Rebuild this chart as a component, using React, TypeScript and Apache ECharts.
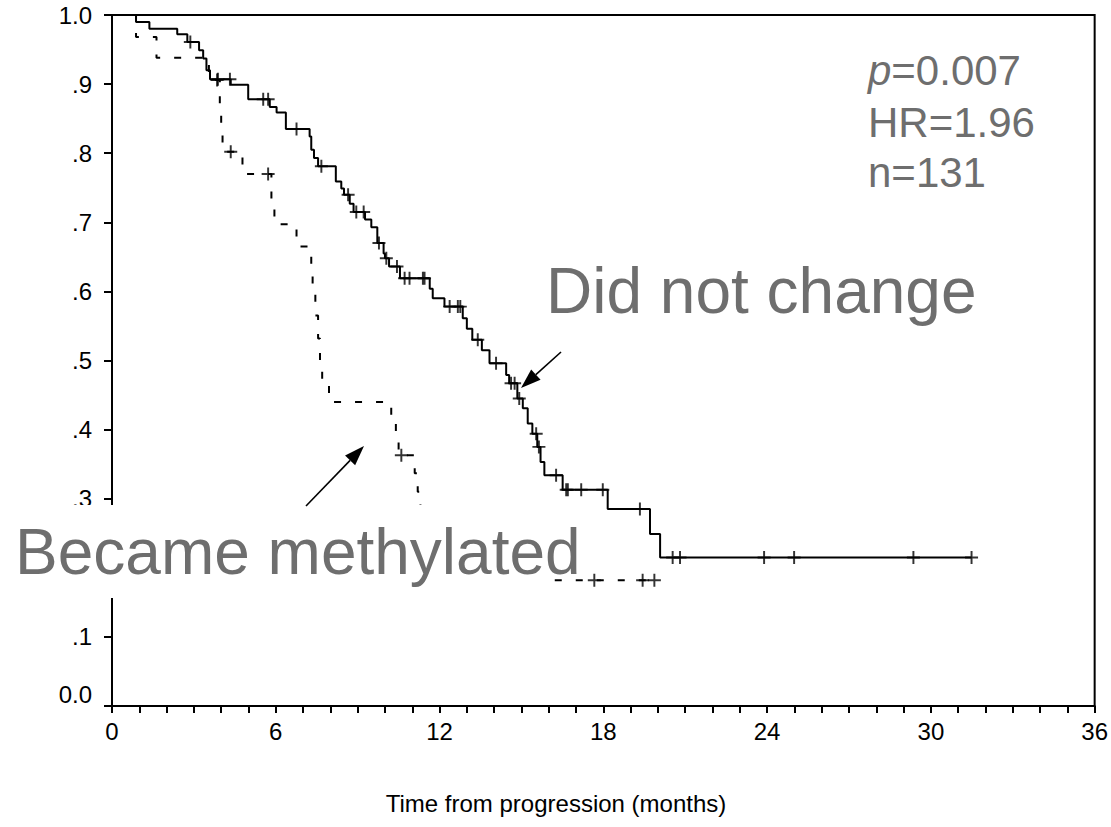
import React, { useEffect, useRef } from "react";
import * as echarts from "echarts";

// ---- Data ----
// "Did not change" group: Kaplan-Meier step times (months) and survival after each step
const timeNoChange = [0, 0.88, 1.37, 2.39, 2.76, 3.19, 3.34, 3.46, 3.59, 4.35, 4.99, 5.78, 6.03, 6.37, 7.24, 7.3, 7.4, 7.55, 8.2, 8.4, 8.5, 8.71, 8.85, 9.27, 9.5, 9.72, 9.95, 10.0, 10.15, 10.55, 11.64, 11.75, 12.18, 12.85, 13.0, 13.2, 13.55, 13.83, 14.44, 14.55, 14.85, 15.05, 15.23, 15.4, 15.58, 15.7, 15.84, 16.51, 18.16, 19.71, 20.08];
const survNoChange = [1.0, 0.99, 0.98, 0.972, 0.961, 0.949, 0.937, 0.92, 0.907, 0.899, 0.878, 0.867, 0.859, 0.835, 0.824, 0.805, 0.793, 0.781, 0.759, 0.749, 0.74, 0.727, 0.715, 0.704, 0.693, 0.67, 0.655, 0.648, 0.636, 0.619, 0.604, 0.59, 0.578, 0.561, 0.546, 0.53, 0.515, 0.496, 0.479, 0.467, 0.445, 0.431, 0.409, 0.394, 0.375, 0.353, 0.334, 0.313, 0.285, 0.249, 0.215];
const censorNoChange = [2.87, 3.88, 4.32, 5.54, 5.72, 6.76, 7.67, 8.65, 8.95, 9.22, 9.78, 10.05, 10.44, 10.72, 10.9, 11.39, 11.45, 12.37, 12.67, 12.76, 13.4, 14.07, 14.62, 14.75, 14.92, 15.54, 15.64, 16.27, 16.64, 16.7, 17.19, 17.98, 19.34, 20.54, 20.81, 23.89, 24.99, 29.36, 31.49];

// "Became methylated" group
const timeMeth = [0, 0.88, 1.63, 3.55, 3.95, 4.0, 4.05, 4.78, 5.84, 5.95, 6.76, 7.3, 7.35, 7.45, 7.55, 7.62, 7.7, 7.95, 10.23, 10.4, 10.5, 11.09, 11.2, 11.3, 11.5, 12.0, 13.0];
const survMeth = [1.0, 0.968, 0.938, 0.906, 0.87, 0.836, 0.802, 0.77, 0.733, 0.697, 0.665, 0.632, 0.598, 0.565, 0.532, 0.5, 0.468, 0.44, 0.414, 0.39, 0.363, 0.337, 0.31, 0.285, 0.25, 0.215, 0.182];
const censorMeth = [3.85, 4.35, 5.72, 10.6, 17.67, 19.44, 19.87];

const xTicks = [0, 6, 12, 18, 24, 30, 36];
const statLines = ["p=0.007", "HR=1.96", "n=131"];
const xTitle = "Time from progression (months)";

const FONT = '"Liberation Sans", Arial, Helvetica, sans-serif';
const GRAY = "#6e6e6e";

function stepAt(times: number[], surv: number[], t: number) {
  let v = surv[0];
  for (let i = 0; i < times.length; i++) if (times[i] <= t) v = surv[i];
  return v;
}

function curveData(times: number[], surv: number[], censors: number[]) {
  const d = times.map((t, i) => [t, surv[i]]);
  const end = Math.max(...censors);
  d.push([end, stepAt(times, surv, end)]);
  return d;
}

function censorData(times: number[], surv: number[], censors: number[]) {
  return censors.map((t) => [t, stepAt(times, surv, t)]);
}

function arrow(sx: number, sy: number, tx: number, ty: number) {
  const dx = tx - sx, dy = ty - sy;
  const len = Math.hypot(dx, dy);
  const ux = dx / len, uy = dy / len;
  const L = 20, W = 7;
  const bx = tx - ux * L, by = ty - uy * L;
  const nx = -uy, ny = ux;
  return [
    { type: "line", z: 120, shape: { x1: sx, y1: sy, x2: bx, y2: by }, style: { stroke: "#000", lineWidth: 1.6 } },
    { type: "polygon", z: 120, shape: { points: [[tx, ty], [bx + nx * W, by + ny * W], [bx - nx * W, by - ny * W]] }, style: { fill: "#000" } },
  ];
}

const PLUS = "path://M-1,-0.15L1,-0.15L1,0.15L-1,0.15Z M-0.15,-1L0.15,-1L0.15,1L-0.15,1Z";

export default function App() {
  const ref = useRef<HTMLDivElement>(null);
  useEffect(() => {
    const chart = echarts.init(ref.current!, undefined, { renderer: "svg" });
    const yFmt = (v: number) => {
      const n = Math.round(v * 10);
      if (n === 0) return "{z|0.0}";
      if (n === 10) return "1.0";
      if (n === 2) return ""; // hidden behind the label box in the reference
      return "." + n;
    };
    chart.setOption({
      animation: false,
      grid: { left: 112, right: 15, top: 15, bottom: 121, show: true, borderColor: "#000", borderWidth: 2, backgroundColor: "transparent" },
      xAxis: {
        type: "value", min: 0, max: 36, interval: 6,
        axisLine: { show: true, lineStyle: { color: "#000", width: 2 } },
        axisTick: { show: true, length: 7, lineStyle: { color: "#000", width: 2 } },
        minorTick: { show: true, splitNumber: 6, length: 7, lineStyle: { color: "#000", width: 2 } },
        splitLine: { show: false },
        axisLabel: { color: "#000", fontSize: 24, fontFamily: FONT, margin: 13, formatter: (v: number) => (xTicks.includes(v) ? String(v) : "") },
      },
      yAxis: {
        type: "value", min: 0, max: 1, interval: 0.1,
        axisLine: { show: true, lineStyle: { color: "#000", width: 2 } },
        axisTick: { show: true, length: 8, lineStyle: { color: "#000", width: 2 } },
        splitLine: { show: false },
        axisLabel: {
          color: "#000", fontSize: 24, fontFamily: FONT, margin: 20, formatter: yFmt,
          rich: { z: { color: "#000", fontSize: 24, fontFamily: FONT, padding: [0, 0, 24, 0] } },
        },
      },
      series: [
        { type: "line", step: "end", showSymbol: false, data: curveData(timeNoChange, survNoChange, censorNoChange), lineStyle: { color: "#000", width: 2 }, z: 3 },
        { type: "line", step: "end", showSymbol: false, data: curveData(timeMeth, survMeth, censorMeth), lineStyle: { color: "#000", width: 2, type: [7, 14] }, z: 3 },
        { type: "scatter", symbol: PLUS, symbolSize: 13, itemStyle: { color: "#000" }, data: censorData(timeNoChange, survNoChange, censorNoChange), z: 4 },
        { type: "scatter", symbol: PLUS, symbolSize: 13, itemStyle: { color: "#000" }, data: censorData(timeMeth, survMeth, censorMeth), z: 4 },
      ],
      graphic: [
        { type: "rect", z: 100, shape: { x: 0, y: 505, width: 550, height: 93 }, style: { fill: "#fff" } },
        { type: "text", z: 101, x: 15, y: 552, style: { text: "Became methylated", fontSize: 64, fontFamily: FONT, fill: GRAY, verticalAlign: "middle", textAlign: "left" } },
        { type: "text", z: 101, x: 546, y: 291, style: { text: "Did not change", fontSize: 64, fontFamily: FONT, fill: GRAY, verticalAlign: "middle", textAlign: "left" } },
        {
          type: "text", z: 101, x: 868, y: 70,
          style: {
            text: "{i|p}=0.007", fontSize: 42, fontFamily: FONT, fill: GRAY, verticalAlign: "middle",
            rich: { i: { fontStyle: "italic", fontSize: 42, fontFamily: FONT, fill: GRAY } },
          },
        },
        { type: "text", z: 101, x: 868, y: 122, style: { text: statLines[1], fontSize: 42, fontFamily: FONT, fill: GRAY, verticalAlign: "middle" } },
        { type: "text", z: 101, x: 868, y: 172, style: { text: statLines[2], fontSize: 42, fontFamily: FONT, fill: GRAY, verticalAlign: "middle" } },
        { type: "text", z: 101, x: 556, y: 803, style: { text: xTitle, fontSize: 24, fontFamily: FONT, fill: "#000", verticalAlign: "middle", textAlign: "center" } },
        ...arrow(561, 352, 521, 388),
        ...arrow(306, 506, 364, 446),
      ],
    });
    return () => chart.dispose();
  }, []);
  return <div ref={ref} style={{ position: "absolute", left: 0, top: 0, width: 1111, height: 827 }} />;
}
